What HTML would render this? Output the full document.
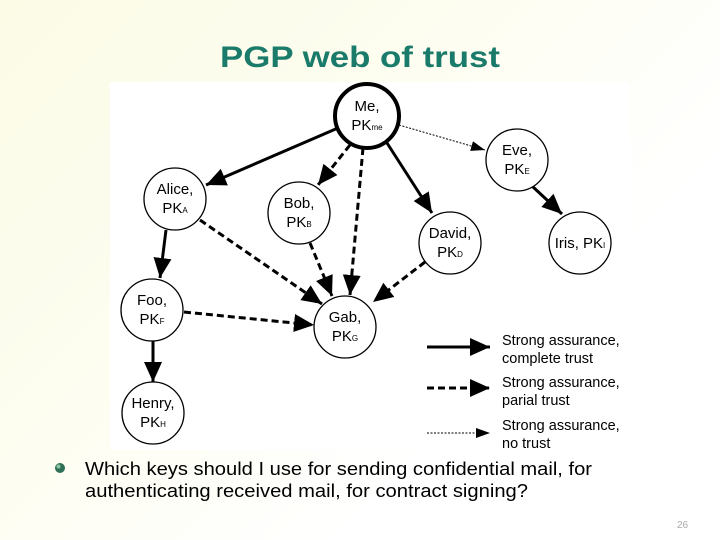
<!DOCTYPE html>
<html><head><meta charset="utf-8"><style>
html,body{margin:0;padding:0;}
body{width:720px;height:540px;overflow:hidden;background:linear-gradient(135deg,#fbfbe6 0%,#fdfdf0 35%,#ffffff 70%);}
svg{display:block;}
</style></head><body>
<svg width="720" height="540" viewBox="0 0 720 540" xmlns="http://www.w3.org/2000/svg" font-family="Liberation Sans, sans-serif">
<defs>
<marker id="a" markerUnits="userSpaceOnUse" markerWidth="22" markerHeight="18" refX="20" refY="9" orient="auto"><path d="M0,0 L20,9 L0,18 z" fill="#000"/></marker>
<marker id="s" markerUnits="userSpaceOnUse" markerWidth="16" markerHeight="12" refX="14" refY="6" orient="auto"><path d="M0,1 L14,6 L0,11 z" fill="#000"/></marker>
</defs>
<text x="360" y="67" text-anchor="middle" font-size="30" font-weight="bold" fill="#1b7b6b" textLength="280" lengthAdjust="spacingAndGlyphs">PGP web of trust</text>
<rect x="110" y="82" width="520" height="368" fill="#fff"/>
<g stroke="#000" fill="none">
<line x1="338" y1="128" x2="206" y2="185" stroke-width="3" marker-end="url(#a)"/>
<line x1="387" y1="143" x2="432" y2="213" stroke-width="3" marker-end="url(#a)"/>
<line x1="532" y1="186" x2="562" y2="214" stroke-width="3" marker-end="url(#a)"/>
<line x1="166" y1="230" x2="160" y2="278" stroke-width="3" marker-end="url(#a)"/>
<line x1="153" y1="341" x2="153" y2="382" stroke-width="3" marker-end="url(#a)"/>
<g stroke-width="3" stroke-dasharray="7,4">
<line x1="350" y1="145" x2="318" y2="185" marker-end="url(#a)"/>
<line x1="363" y1="148" x2="350" y2="295" marker-end="url(#a)"/>
<line x1="200" y1="220" x2="322" y2="304" marker-end="url(#a)"/>
<line x1="310" y1="243" x2="332" y2="296" marker-end="url(#a)"/>
<line x1="425" y1="262" x2="373" y2="302" marker-end="url(#a)"/>
<line x1="184" y1="312" x2="314" y2="325" marker-end="url(#a)"/>
</g>
<line x1="399" y1="125" x2="485" y2="150" stroke-width="1" stroke-dasharray="2,1.5" marker-end="url(#s)"/>
<line x1="427" y1="347" x2="490" y2="347" stroke-width="3" marker-end="url(#a)"/>
<line x1="427" y1="388" x2="490" y2="388" stroke-width="3" stroke-dasharray="7,4" marker-end="url(#a)"/>
<line x1="427" y1="433" x2="490" y2="433" stroke-width="1" stroke-dasharray="2,1.5" marker-end="url(#s)"/>
</g>
<g fill="#fff" stroke="#000" stroke-width="1.3">
<circle cx="367" cy="116" r="32" stroke-width="4"/>
<circle cx="517" cy="160" r="31"/>
<circle cx="175" cy="199" r="31"/>
<circle cx="299" cy="213" r="31"/>
<circle cx="450" cy="243" r="31"/>
<circle cx="580" cy="243" r="31"/>
<circle cx="152" cy="310" r="31"/>
<circle cx="345" cy="327" r="31"/>
<circle cx="153" cy="413" r="31"/>
</g>
<g font-size="15" text-anchor="middle" fill="#000">
<text x="367" y="111">Me,</text><text x="367" y="130">PK<tspan font-size="8">me</tspan></text>
<text x="517" y="155">Eve,</text><text x="517" y="174">PK<tspan font-size="8">E</tspan></text>
<text x="175" y="194">Alice,</text><text x="175" y="213">PK<tspan font-size="8">A</tspan></text>
<text x="299" y="208">Bob,</text><text x="299" y="227">PK<tspan font-size="8">B</tspan></text>
<text x="450" y="238">David,</text><text x="450" y="257">PK<tspan font-size="8">D</tspan></text>
<text x="580" y="248">Iris, PK<tspan font-size="8">I</tspan></text>
<text x="152" y="305">Foo,</text><text x="152" y="324">PK<tspan font-size="8">F</tspan></text>
<text x="345" y="322">Gab,</text><text x="345" y="341">PK<tspan font-size="8">G</tspan></text>
<text x="153" y="408">Henry,</text><text x="153" y="427">PK<tspan font-size="8">H</tspan></text>
</g>
<g font-size="14.5" fill="#000">
<text x="502" y="345">Strong assurance,</text><text x="502" y="363">complete trust</text>
<text x="502" y="387">Strong assurance,</text><text x="502" y="405">parial trust</text>
<text x="502" y="430">Strong assurance,</text><text x="502" y="448">no trust</text>
</g>
<circle cx="60" cy="468" r="5" fill="#2f6f55"/>
<circle cx="58.5" cy="466.5" r="2" fill="#8fc6a8"/>
<g font-size="18" fill="#000">
<text x="85" y="475" textLength="507" lengthAdjust="spacingAndGlyphs">Which keys should I use for sending confidential mail, for</text>
<text x="85" y="497" textLength="443" lengthAdjust="spacingAndGlyphs">authenticating received mail, for contract signing?</text>
</g>
<text x="677" y="528" font-size="10" fill="#aaa">26</text>
</svg>
</body></html>
